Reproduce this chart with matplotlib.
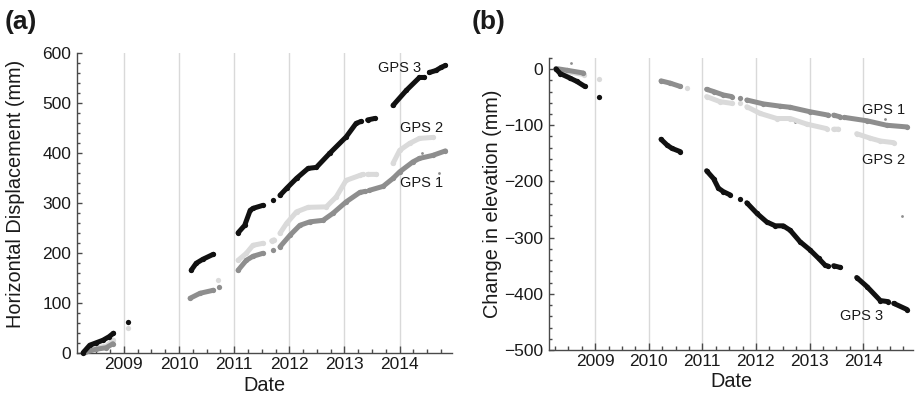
import numpy as np
import matplotlib
matplotlib.use("Agg")
import matplotlib.pyplot as plt
import matplotlib.ticker as ticker

nan = np.nan

# (a) horizontal displacement, mm; segments separated by NaN
h_gps3_t = [2008.26, 2008.38, 2008.50, 2008.62, 2008.73, 2008.81, nan,
            2009.08, nan,
            2010.22, 2010.31, 2010.43, 2010.62, nan,
            2011.07, 2011.19, 2011.29, 2011.34, 2011.52, nan,
            2011.70, nan,
            2011.83, 2011.95, 2012.13, 2012.34, 2012.49, 2012.73, 2013.03,
            2013.21, 2013.30, nan,
            2013.42, 2013.55, nan,
            2013.88, 2014.12, 2014.36, 2014.45, nan,
            2014.54, 2014.66, 2014.75, 2014.83]
h_gps3_v = [0, 15, 20, 25, 32, 39, nan,
            61, nan,
            165, 179, 187, 197, nan,
            240, 255, 285, 289, 295, nan,
            305, nan,
            315, 329, 349, 369, 371, 399, 432,
            459, 463, nan,
            466, 469, nan,
            495, 525, 551, 551, nan,
            561, 565, 571, 575]

h_gps2_t = [2008.30, 2008.50, 2008.68, 2008.81, nan,
            2009.08, nan,
            2010.71, nan,
            2011.07, 2011.22, 2011.34, 2011.52, nan,
            2011.68, 2011.72, nan,
            2011.83, 2011.95, 2012.13, 2012.34, 2012.67, 2012.85, 2013.03,
            2013.28, 2013.33, nan,
            2013.42, 2013.58, nan,
            2013.88, 2014.00, 2014.18, 2014.36, 2014.60]
h_gps2_v = [2, 10, 13, 25, nan,
            50, nan,
            145, nan,
            185, 199, 215, 219, nan,
            224, 226, nan,
            239, 259, 282, 291, 292, 312, 345,
            355, 357, nan,
            357, 357, nan,
            379, 405, 419, 429, 431]

h_gps1_t = [2008.30, 2008.50, 2008.68, 2008.80, nan,
            2010.20, 2010.38, 2010.62, nan,
            2010.72, nan,
            2011.07, 2011.22, 2011.34, 2011.52, nan,
            2011.70, nan,
            2011.83, 2012.01, 2012.19, 2012.37, 2012.61, 2012.79, 2013.03,
            2013.28, 2013.38, nan,
            2013.45, 2013.70, 2013.88, 2014.00, 2014.24, 2014.36, 2014.60,
            2014.83]
h_gps1_v = [1, 7, 10, 18, nan,
            109, 119, 125, nan,
            132, nan,
            165, 185, 193, 199, nan,
            205, nan,
            212, 235, 255, 262, 265, 279, 302,
            321, 323, nan,
            325, 333, 349, 362, 382, 389, 395,
            404]

h_stray_t = [2012.70, 2014.41, 2014.72]
h_stray_v = [402, 399, 360]

# (b) change in elevation, mm
v_gps3_t = [2008.27, 2008.35, 2008.53, 2008.66, 2008.81, nan,
            2009.07, nan,
            2010.23, 2010.34, 2010.43, 2010.59, nan,
            2011.08, 2011.21, 2011.30, 2011.39, 2011.52, nan,
            2011.71, nan,
            2011.83, 2012.02, 2012.20, 2012.36, 2012.51, 2012.64, 2012.82,
            2013.01, 2013.17, 2013.29, 2013.35, nan,
            2013.45, 2013.57, nan,
            2013.88, 2014.07, 2014.32, 2014.47, nan,
            2014.57, 2014.82]
v_gps3_v = [0, -8, -16, -22, -31, nan,
            -50, nan,
            -125, -135, -141, -147, nan,
            -181, -195, -212, -218, -224, nan,
            -232, nan,
            -238, -257, -272, -279, -279, -287, -307,
            -322, -337, -349, -351, nan,
            -350, -353, nan,
            -371, -387, -412, -414, nan,
            -417, -428]

v_gps2_t = [2008.27, 2008.50, 2008.80, nan,
            2009.07, nan,
            2010.71, nan,
            2011.08, 2011.33, 2011.55, nan,
            2011.71, nan,
            2011.83, 2012.08, 2012.39, 2012.64, 2012.95, 2013.32, nan,
            2013.45, 2013.54, nan,
            2013.88, 2014.13, 2014.32, 2014.57]
v_gps2_v = [0, -5, -10, nan,
            -18, nan,
            -34, nan,
            -49, -58, -61, nan,
            -60, nan,
            -67, -79, -88, -88, -98, -106, nan,
            -107, -107, nan,
            -115, -123, -128, -131]

v_gps1_t = [2008.27, 2008.47, 2008.78, nan,
            2010.23, 2010.40, 2010.59, nan,
            2011.08, 2011.21, 2011.39, 2011.55, nan,
            2011.71, nan,
            2011.83, 2012.14, 2012.45, 2012.64, 2013.01, 2013.35, nan,
            2013.45, 2013.57, nan,
            2013.65, 2014.07, 2014.44, 2014.82]
v_gps1_v = [1, -2, -7, nan,
            -21, -25, -31, nan,
            -36, -40, -46, -49, nan,
            -52, nan,
            -55, -62, -66, -68, -76, -82, nan,
            -82, -85, nan,
            -86, -92, -100, -103]

v_stray_t = [2008.55, 2012.73, 2014.41, 2014.73]
v_stray_v = [11, -94, -88, -262]

years = [2009, 2010, 2011, 2012, 2013, 2014]

C_GPS1 = "#8e8e8e"
C_GPS2 = "#dadada"
C_GPS3 = "#111111"
AX_COL = "#4a4a4a"
TXT = "#1a1a1a"


def draw_series(ax, t, v, color):
    ax.plot(t, v, "-", color=color, lw=3.6, marker="o", ms=3.8,
            mec="none", solid_capstyle="round", clip_on=False, zorder=3)


def style_ax(ax, xlim, ylim, ystep):
    ax.set_xlim(*xlim)
    ax.set_ylim(*ylim)
    for s in ("top", "right"):
        ax.spines[s].set_visible(False)
    for s in ("left", "bottom"):
        ax.spines[s].set_color(AX_COL)
        ax.spines[s].set_linewidth(1.0)
    ax.xaxis.set_major_locator(ticker.FixedLocator(years))
    ax.xaxis.set_minor_locator(ticker.MultipleLocator(0.25))
    ax.xaxis.set_major_formatter(ticker.FormatStrFormatter("%d"))
    ax.yaxis.set_major_locator(ticker.MultipleLocator(ystep))
    ax.yaxis.set_minor_locator(ticker.MultipleLocator(20))
    ax.tick_params(axis="x", which="major", direction="in", length=5,
                   width=1, color=AX_COL, labelsize=12.5, labelcolor=TXT,
                   pad=3)
    ax.tick_params(axis="x", which="minor", direction="in", length=3,
                   width=1, color=AX_COL)
    ax.tick_params(axis="y", which="major", direction="in", length=3.5,
                   width=1, color=AX_COL, labelsize=12.5, labelcolor=TXT,
                   pad=4)
    ax.tick_params(axis="y", which="minor", direction="in", length=2.5,
                   width=1, color=AX_COL)
    for yr in years:
        ax.axvline(yr, color="#d9d9d9", lw=1.0, zorder=0)


plt.rcParams["font.family"] = ["Liberation Sans", "DejaVu Sans"]

fig = plt.figure(figsize=(9.15, 3.94), dpi=100)
ax1 = fig.add_axes([0.0842, 0.1048, 0.4098, 0.7607])
ax2 = fig.add_axes([0.6000, 0.1117, 0.3978, 0.7415])

# (a)
style_ax(ax1, (2008.15, 2014.95), (0, 600), 100)
draw_series(ax1, h_gps2_t, h_gps2_v, C_GPS2)
draw_series(ax1, h_gps1_t, h_gps1_v, C_GPS1)
draw_series(ax1, h_gps3_t, h_gps3_v, C_GPS3)
ax1.plot(h_stray_t, h_stray_v, "o", color=C_GPS1, ms=2, mec="none")
ax1.text(2014.0, 569, "GPS 3", ha="center", va="center", fontsize=10.5,
         color=TXT)
ax1.text(2014.4, 449, "GPS 2", ha="center", va="center", fontsize=10.5,
         color=TXT)
ax1.text(2014.4, 339, "GPS 1", ha="center", va="center", fontsize=10.5,
         color=TXT)
ax1.set_ylabel("Horizontal Displacement (mm)", fontsize=14.3, color=TXT)
ax1.yaxis.set_label_coords(-0.139, 0.53)
ax1.set_xlabel("Date", fontsize=14.3, color=TXT)
ax1.xaxis.set_label_coords(0.5, -0.079)

# (b)
style_ax(ax2, (2008.14, 2014.93), (-500, 20), 100)
draw_series(ax2, v_gps2_t, v_gps2_v, C_GPS2)
draw_series(ax2, v_gps1_t, v_gps1_v, C_GPS1)
draw_series(ax2, v_gps3_t, v_gps3_v, C_GPS3)
ax2.plot(v_stray_t, v_stray_v, "o", color=C_GPS1, ms=2, mec="none")
ax2.text(2014.38, -73, "GPS 1", ha="center", va="center", fontsize=10.5,
         color=TXT)
ax2.text(2014.38, -161, "GPS 2", ha="center", va="center", fontsize=10.5,
         color=TXT)
ax2.text(2013.98, -440, "GPS 3", ha="center", va="center", fontsize=10.5,
         color=TXT)
ax2.set_ylabel("Change in elevation (mm)", fontsize=14.3, color=TXT)
ax2.yaxis.set_label_coords(-0.129, 0.5)
ax2.set_xlabel("Date", fontsize=14.3, color=TXT)
ax2.xaxis.set_label_coords(0.5, -0.076)

fig.text(0.005, 0.944, "(a)", fontsize=19, fontweight="bold", va="center",
         ha="left", color=TXT)
fig.text(0.515, 0.944, "(b)", fontsize=19, fontweight="bold", va="center",
         ha="left", color=TXT)

fig.savefig("out.png", dpi=100)
